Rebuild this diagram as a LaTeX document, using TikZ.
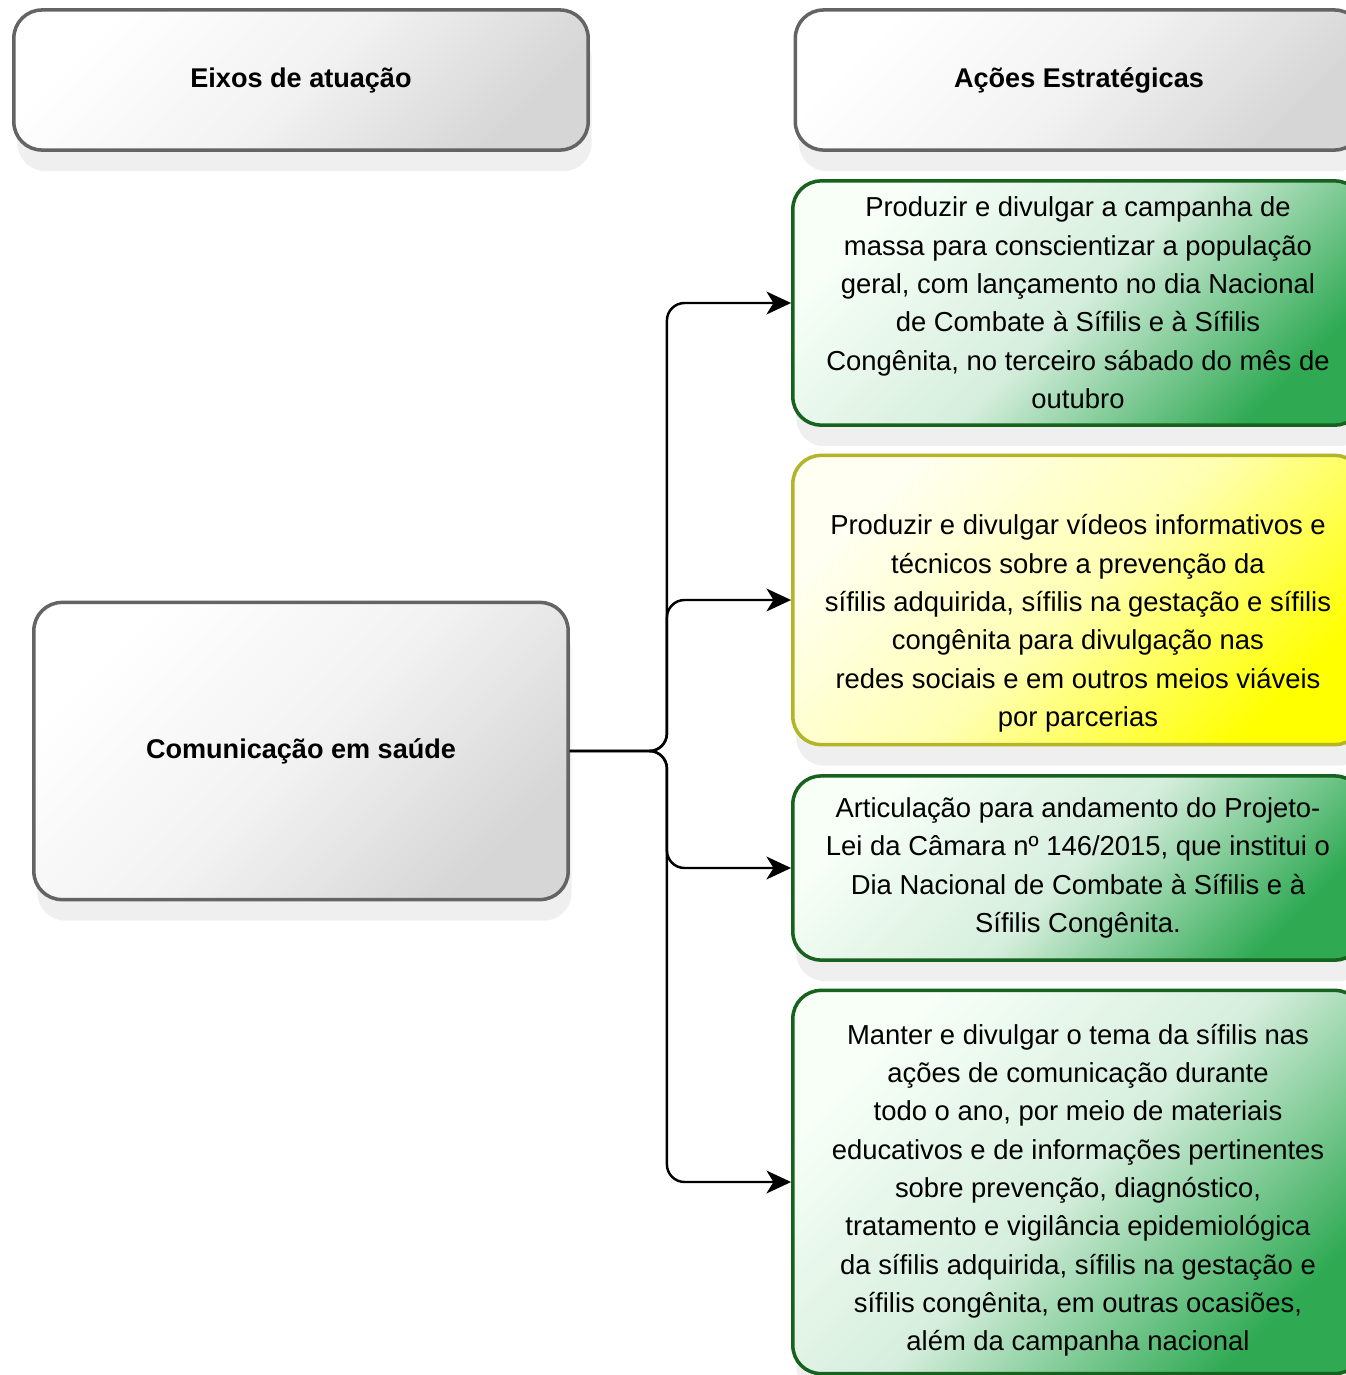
\documentclass[tikz,border=0pt]{standalone}
\usepackage{fontspec}
\setmainfont{Liberation Sans}
\usepackage{tikz}
\usetikzlibrary{positioning,calc,arrows.meta,shadows}
\definecolor{boxgreen}{RGB}{24,160,64}
\definecolor{edgegreen}{RGB}{22,98,30}
\definecolor{edgeyellow}{RGB}{180,180,40}
\definecolor{edgegray}{RGB}{100,100,100}

\begin{document}
\begin{tikzpicture}[x=0.01cm, y=-0.01cm, >={Stealth[length=7pt,width=6.5pt,inset=2pt]},
    base/.style={rounded corners=8pt, line width=1pt, align=center,
        font=\fontsize{7.8}{10.9}\selectfont,
        drop shadow={shadow xshift=1pt, shadow yshift=-6pt, opacity=0.12}},
    graybox/.style={base, draw=edgegray, top color=white, bottom color=gray!32,
        middle color=gray!10, shading angle=45, font=\bfseries\fontsize{7.7}{10}\selectfont},
    greenbox/.style={base, draw=edgegreen, top color=green!3, bottom color=boxgreen!90,
        middle color=boxgreen!18, shading angle=45},
    yellowbox/.style={base, draw=edgeyellow, top color=yellow!5, bottom color=yellow,
        middle color=yellow!30, shading angle=45},
    conn/.style={->, black, line width=0.7pt, rounded corners=5pt}]
    \fill[white] (0,0) rectangle (1346,1375);
    \useasboundingbox (0,0) rectangle (1346,1375);

    % headers
    \node[graybox, minimum width=5.74cm, minimum height=1.4cm] (eixos) at (301,80) {Eixos de atuação};
    \node[graybox, minimum width=5.67cm, minimum height=1.4cm] (acoes) at (1079,80) {Ações Estratégicas};

    % eixo
    \node[graybox, minimum width=5.34cm, minimum height=2.97cm] (com) at (301,751) {Comunicação em saúde};

    % acoes
    \node[greenbox, minimum width=5.7cm, minimum height=2.44cm] (a1) at (1078,303)
        {Produzir e divulgar a campanha de\\ massa para conscientizar a população\\ geral, com lançamento no dia Nacional\\
         de Combate à Sífilis e à Sífilis\\ Congênita, no terceiro sábado do mês de\\ outubro};
    \node[yellowbox, minimum width=5.7cm, minimum height=2.89cm] (a2) at (1078,600)
        {\rule{0pt}{19pt}Produzir e divulgar vídeos informativos e\\ técnicos sobre a prevenção da\\ sífilis adquirida, sífilis na gestação e sífilis\\
         congênita para divulgação nas\\ redes sociais e em outros meios viáveis\\ por parcerias};
    \node[greenbox, minimum width=5.7cm, minimum height=1.84cm] (a3) at (1078,868)
        {Articulação para andamento do Projeto-\\ Lei da Câmara nº 146/2015, que institui o\\ Dia Nacional de Combate à Sífilis e à\\ Sífilis Congênita.};
    \node[greenbox, minimum width=5.7cm, minimum height=3.83cm] (a4) at (1078,1182)
        {\rule{0pt}{10.5pt}Manter e divulgar o tema da sífilis nas\\ ações de comunicação durante\\ todo o ano, por meio de materiais\\
         educativos e de informações pertinentes\\ sobre prevenção, diagnóstico,\\ tratamento e vigilância epidemiológica\\
         da sífilis adquirida, sífilis na gestação e\\ sífilis congênita, em outras ocasiões,\\ além da campanha nacional};

    % ligacoes
    \path (com.east) ++(97,0) coordinate (hub);
    \foreach \t in {a1,a2,a3,a4} {
        \draw[conn] (com.east) -- (hub) |- (\t.west);
    }
\end{tikzpicture}
\end{document}
